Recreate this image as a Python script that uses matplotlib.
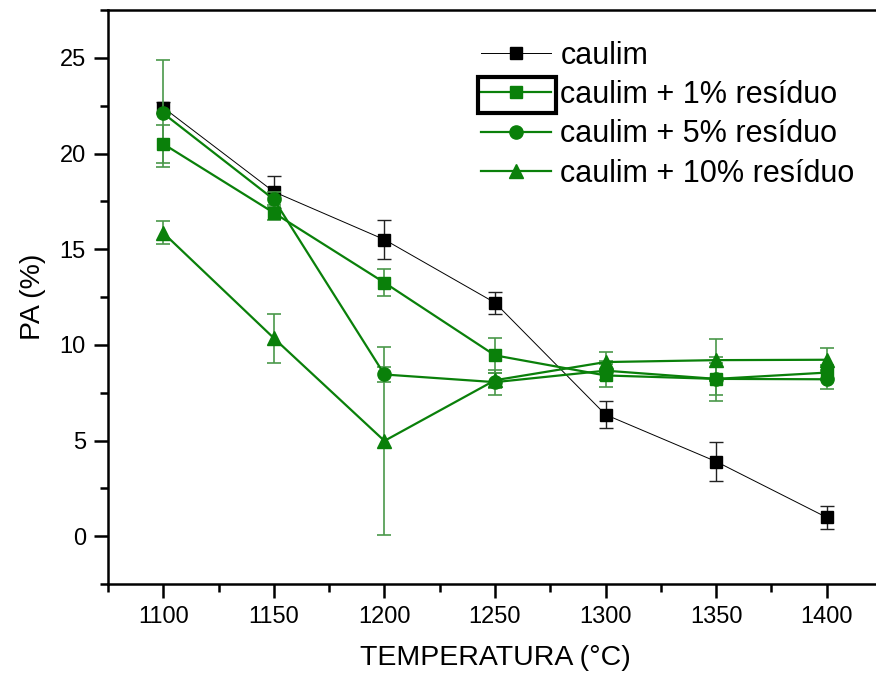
import matplotlib
matplotlib.use("Agg")
import matplotlib.pyplot as plt
from matplotlib.patches import Rectangle
from matplotlib.lines import Line2D
from matplotlib.ticker import MultipleLocator

plt.rcParams['font.family'] = ['Liberation Sans', 'DejaVu Sans']

temps = [1100, 1150, 1200, 1250, 1300, 1350, 1400]

caulim = [22.4, 18.0, 15.5, 12.2, 6.35, 3.9, 0.98]
caulim_err = [0.3, 0.85, 1.0, 0.57, 0.72, 1.03, 0.6]

res1 = [20.5, 16.9, 13.25, 9.45, 8.4, 8.22, 8.55]
res1_err = [1.0, 0.4, 0.7, 0.9, 0.6, 1.15, 0.4]

res5 = [22.1, 17.6, 8.45, 8.05, 8.65, 8.22, 8.2]
res5_err = [2.8, 0.4, 0.4, 0.65, 0.5, 0.85, 0.5]

res10 = [15.85, 10.35, 4.98, 8.15, 9.1, 9.2, 9.22]
res10_err = [0.6, 1.28, 4.9, 0.4, 0.5, 1.1, 0.6]

labels = ["caulim", "caulim + 1% resíduo", "caulim + 5% resíduo", "caulim + 10% resíduo"]

green = "#0a800a"
green_err = "#4a984a"

fig = plt.figure(figsize=(8.76, 6.75), dpi=100)
ax = fig.add_axes([108/876, 91/675, 774/876, 574/675])

ax.errorbar(temps, caulim, yerr=caulim_err, color='black', ecolor='#222222', elinewidth=1.0,
            capsize=5, capthick=1.0, lw=0.7, marker='s', ms=8, zorder=2)
ax.errorbar(temps, res10, yerr=res10_err, color=green, ecolor=green_err, elinewidth=1.2,
            capsize=5, capthick=1.2, lw=1.6, marker='^', ms=10, zorder=3)
ax.errorbar(temps, res5, yerr=res5_err, color=green, ecolor=green_err, elinewidth=1.2,
            capsize=5, capthick=1.2, lw=1.6, marker='o', ms=9.5, zorder=3)
ax.errorbar(temps, res1, yerr=res1_err, color=green, ecolor=green_err, elinewidth=1.2,
            capsize=5, capthick=1.2, lw=1.6, marker='s', ms=8, zorder=3)

ax.set_xlim(1075, 1425)
ax.set_ylim(-2.5, 27.5)
ax.xaxis.set_major_locator(MultipleLocator(50))
ax.xaxis.set_minor_locator(MultipleLocator(25))
ax.yaxis.set_major_locator(MultipleLocator(5))
ax.yaxis.set_minor_locator(MultipleLocator(2.5))
ax.spines['right'].set_visible(False)
for s in ['left', 'bottom', 'top']:
    ax.spines[s].set_linewidth(1.8)
ax.tick_params(which='major', direction='out', length=10, width=1.8, labelsize=17, pad=6)
ax.tick_params(which='minor', direction='out', length=6, width=1.8)
ax.tick_params(top=False, right=False)

ax.set_xlabel("TEMPERATURA (°C)", fontsize=20.5, labelpad=12)
ax.set_ylabel("PA (%)", fontsize=20.5, labelpad=10)

handles = [
    Line2D([], [], color='black', lw=0.7, marker='s', ms=8),
    Line2D([], [], color=green, lw=1.6, marker='s', ms=8),
    Line2D([], [], color=green, lw=1.6, marker='o', ms=9.5),
    Line2D([], [], color=green, lw=1.6, marker='^', ms=10),
]
leg = ax.legend(handles, labels,
                loc='upper left', bbox_to_anchor=(481/876, 1 - 41/675),
                bbox_transform=fig.transFigure, frameon=False, fontsize=22,
                handlelength=2.3, handletextpad=0.3, labelspacing=0.3, borderpad=0,
                borderaxespad=0)

fig.patches.append(Rectangle((478/876, (675-113)/675), 78/876, 36/675,
                             transform=fig.transFigure, fill=False, lw=3, ec='black'))

fig.savefig("out.png", dpi=100)
